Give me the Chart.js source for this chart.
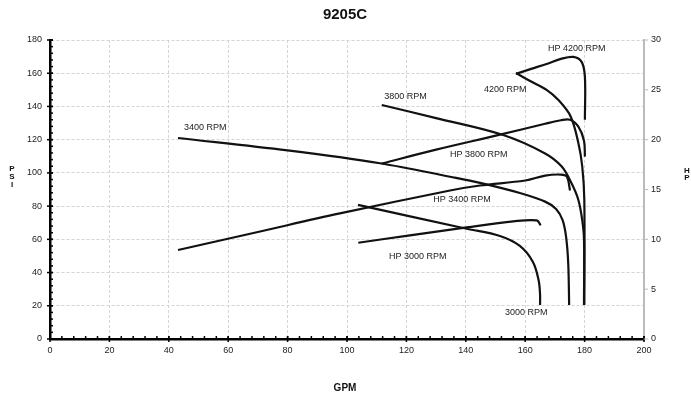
<!DOCTYPE html>
<html>
<head>
<meta charset="utf-8">
<title>9205C</title>
<script src="https://cdn.jsdelivr.net/npm/chart.js@4/dist/chart.umd.min.js"></script>
<style>
  body { margin: 0; background: #fff; }
  canvas { display: block; }
</style>
</head>
<body>
<canvas id="pumpChart" width="691" height="398"></canvas>
<script>
// pressure curves (GPM vs PSI)
const gpm3000 = [103.7, 140.3, 151.5, 158.2, 162.6, 164.5, 165, 165];
const psi3000 = [80.7, 66.4, 62, 56, 46.4, 35.5, 27, 20.5];
const gpm3400 = [43.1, 80, 111.1, 134.7, 144.8, 158.2, 166.7, 170.4, 172.6, 173.8, 174.5, 174.8];
const psi3400 = [121, 113.5, 105.8, 97.7, 94, 87.9, 82.7, 78.3, 71.5, 61, 45, 20.5];
const gpm3800 = [111.7, 130, 152.6, 166.7, 172.3, 175.6, 177.9, 179.2, 179.8, 179.8];
const psi3800 = [140.9, 133, 122.8, 111.7, 103.8, 93.7, 83.7, 71.6, 60, 20.5];
const gpm4200 = [156.9, 162, 167.2, 171.1, 175.3, 177.9, 179.2, 179.9, 179.9];
const psi4200 = [160.1, 155, 150, 144, 134, 118, 104, 84, 20.5];

// horsepower curves (GPM vs HP)
const hpGpm3000 = [103.8, 120, 140.3, 156, 163.9, 165.2];
const hp3000 = [9.66, 10.35, 11.2, 11.8, 11.9, 11.4];
const hpGpm3400 = [43.1, 70, 97.6, 134.7, 144.8, 160, 166.7, 172, 174, 175.1];
const hp3400 = [8.93, 10.74, 12.6, 14.9, 15.4, 15.9, 16.4, 16.5, 16.3, 14.9];
const hpGpm3800 = [111.7, 130, 151.5, 166.7, 172, 175.1, 177.9, 179.8, 180.1];
const hp3800 = [17.6, 19.0, 20.5, 21.6, 21.95, 22.0, 21.3, 19.9, 18.3];
const hpGpm4200 = [156.9, 162, 167.2, 172, 176.2, 179, 180.1, 180.1];
const hp4200 = [26.6, 27.1, 27.6, 28.1, 28.3, 27.8, 26.3, 22];

// curve captions, anchored in GPM / PSI
const captionText = ['3400 RPM', '3800 RPM', '4200 RPM', 'HP 4200 RPM', 'HP 3800 RPM', 'HP 3400 RPM', 'HP 3000 RPM', '3000 RPM'];
const captionGpm = [45.1, 112.5, 146.1, 167.7, 134.7, 129, 114.1, 153.2];
const captionPsi = [127.6, 145.7, 149.9, 174.6, 110.8, 83.7, 49.4, 15.7];

const FONT = "'Liberation Sans', Arial, sans-serif";

const toPoints = (xs, ys) => xs.map((x, i) => ({ x, y: ys[i] }));

const curve = (label, xs, ys, axis) => ({
  label,
  data: toPoints(xs, ys),
  yAxisID: axis,
  showLine: true,
  fill: false,
  borderColor: '#111',
  borderWidth: 2.2,
  tension: 0.35,
  pointRadius: 0,
});

const datasets = [
  curve('3000 RPM', gpm3000, psi3000, 'y'),
  curve('3400 RPM', gpm3400, psi3400, 'y'),
  curve('3800 RPM', gpm3800, psi3800, 'y'),
  curve('4200 RPM', gpm4200, psi4200, 'y'),
  curve('HP 3000 RPM', hpGpm3000, hp3000, 'y1'),
  curve('HP 3400 RPM', hpGpm3400, hp3400, 'y1'),
  curve('HP 3800 RPM', hpGpm3800, hp3800, 'y1'),
  curve('HP 4200 RPM', hpGpm4200, hp4200, 'y1'),
];

// titles, captions and the small axis ticks
const decorations = {
  id: 'decorations',
  afterDraw(chart) {
    const { ctx, chartArea, scales } = chart;
    const x = scales.x, y = scales.y, y1 = scales.y1;
    ctx.save();

    // minor + major ticks on the left axis
    ctx.strokeStyle = '#000';
    ctx.lineWidth = 1.5;
    for (let v = 0; v <= 180; v += 4) {
      const py = y.getPixelForValue(v);
      ctx.beginPath();
      ctx.moveTo(chartArea.left, py);
      ctx.lineTo(chartArea.left + 3, py);
      ctx.stroke();
    }
    for (let v = 0; v <= 180; v += 20) {
      const py = y.getPixelForValue(v);
      ctx.beginPath();
      ctx.moveTo(chartArea.left - 3, py);
      ctx.lineTo(chartArea.left + 3, py);
      ctx.stroke();
    }
    // bottom axis
    for (let v = 0; v <= 200; v += 4) {
      const px = x.getPixelForValue(v);
      ctx.beginPath();
      ctx.moveTo(px, chartArea.bottom);
      ctx.lineTo(px, chartArea.bottom - 3);
      ctx.stroke();
    }
    for (let v = 0; v <= 200; v += 20) {
      const px = x.getPixelForValue(v);
      ctx.beginPath();
      ctx.moveTo(px, chartArea.bottom - 3);
      ctx.lineTo(px, chartArea.bottom + 3);
      ctx.stroke();
    }
    // right axis ticks
    ctx.strokeStyle = '#bbb';
    ctx.lineWidth = 1;
    for (let v = 0; v <= 30; v += 5) {
      const py = y1.getPixelForValue(v);
      ctx.beginPath();
      ctx.moveTo(chartArea.right, py);
      ctx.lineTo(chartArea.right + 4, py);
      ctx.stroke();
    }

    // chart title and axis names
    ctx.fillStyle = '#111';
    ctx.textAlign = 'center';
    ctx.textBaseline = 'middle';
    ctx.font = 'bold 15px ' + FONT;
    ctx.fillText('9205C', 345, 15);
    ctx.font = 'bold 10px ' + FONT;
    ctx.fillText('GPM', 345, 388);
    ctx.font = 'bold 8px ' + FONT;
    ['P', 'S', 'I'].forEach((ch, i) => ctx.fillText(ch, 12, 169 + i * 8));
    ['H', 'P'].forEach((ch, i) => ctx.fillText(ch, 687, 171 + i * 7));

    // curve captions
    ctx.font = '9px ' + FONT;
    ctx.textAlign = 'left';
    ctx.fillStyle = '#222';
    captionText.forEach((t, i) => {
      ctx.fillText(t, x.getPixelForValue(captionGpm[i]), y.getPixelForValue(captionPsi[i]));
    });
    ctx.restore();
  }
};

const tickFont = { family: FONT, size: 9 };

new Chart(document.getElementById('pumpChart'), {
  type: 'scatter',
  data: { datasets },
  options: {
    responsive: false,
    animation: false,
    layout: { padding: { top: 40, left: 0, right: 0, bottom: 0 } },
    plugins: {
      legend: { display: false },
      tooltip: { enabled: false },
    },
    scales: {
      x: {
        type: 'linear',
        min: 0,
        max: 200,
        ticks: { stepSize: 20, font: tickFont, color: '#222', padding: 6, maxRotation: 0 },
        grid: { color: '#d4d4d4', lineWidth: 1, drawTicks: false },
        border: { color: '#000', width: 2.5, dash: [3, 2] },
        afterFit(scale) { scale.height = 59; },
      },
      y: {
        position: 'left',
        min: 0,
        max: 180,
        ticks: { stepSize: 20, font: tickFont, color: '#222', padding: 8 },
        grid: { color: '#d4d4d4', lineWidth: 1, drawTicks: false },
        border: { color: '#000', width: 2.5, dash: [3, 2] },
        afterFit(scale) { scale.width = 50; },
      },
      y1: {
        position: 'right',
        min: 0,
        max: 30,
        ticks: { stepSize: 5, font: tickFont, color: '#222', padding: 7 },
        grid: { drawOnChartArea: false, drawTicks: false },
        border: { color: '#bbb', width: 2 },
        afterFit(scale) { scale.width = 47; },
      },
    },
  },
  plugins: [decorations],
});
</script>
</body>
</html>
